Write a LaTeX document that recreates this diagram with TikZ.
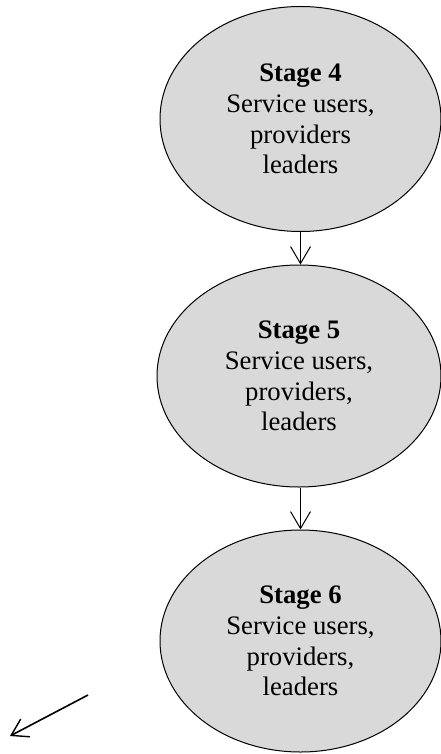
\documentclass[tikz,border=0pt]{standalone}
\usepackage{fontspec}
\setmainfont{Liberation Serif}
\usetikzlibrary{shapes.geometric,arrows.meta}
\definecolor{stagefill}{RGB}{217,217,217}
\tikzset{
  stage/.style={ellipse, draw=black, line width=1pt, fill=stagefill,
    inner sep=0pt, align=center,
    font=\fontsize{26.7}{30.7}\selectfont},
  flow/.style={line width=1pt, -{Straight Barb[length=17pt,width=20pt,line width=1pt]}},
  stray/.style={line width=1.6pt, -{Straight Barb[length=16pt,width=20pt,line width=1.4pt]}}
}
\begin{document}
\begin{tikzpicture}[x=1pt,y=-1pt]
  \fill[white] (0,0) rectangle (441,754);
  \useasboundingbox (0,0) rectangle (441,754);
  \clip (0,0) rectangle (441,754);

  \node[stage, minimum width=281pt, minimum height=225pt] (s4) at (300.5,119)
    {\textbf{Stage 4}\\Service users,\\providers\\leaders};
  \node[stage, minimum width=284pt, minimum height=222pt] (s5) at (299,376)
    {\textbf{Stage 5}\\Service users,\\providers,\\leaders};
  \node[stage, minimum width=281pt, minimum height=222pt] (s6) at (300.5,641)
    {\textbf{Stage 6}\\Service users,\\providers,\\leaders};

  \draw[flow] (s4.south) -- (s4.south |- s5.north);
  \draw[flow] (s5.south -| s4.south) -- (s4.south |- s6.north);

  \coordinate (a0) at (88,695);
  \coordinate (a1) at (10,736);
  \draw[stray] (a0) -- (a1);
\end{tikzpicture}
\end{document}
